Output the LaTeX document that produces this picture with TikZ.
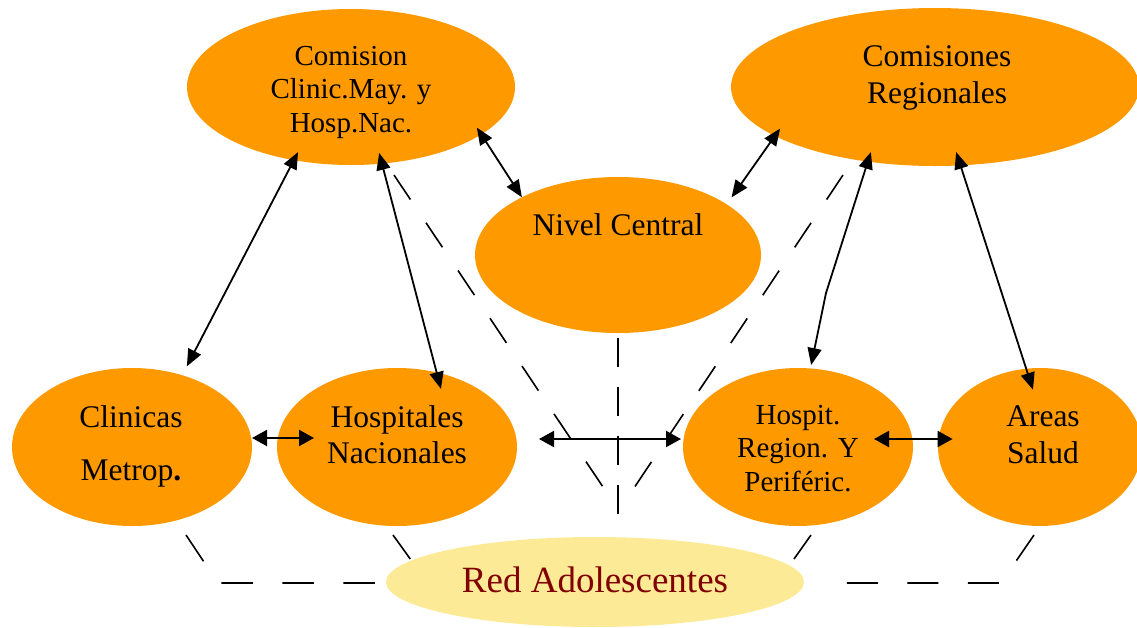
\documentclass[tikz,border=0pt]{standalone}
\usepackage{fontspec}
\setmainfont{Liberation Serif}
\usetikzlibrary{shapes.geometric,arrows.meta}
\definecolor{blobfill}{RGB}{255,153,0}
\definecolor{redfill}{RGB}{253,234,150}
\definecolor{redtext}{RGB}{128,0,0}
\begin{document}
\begin{tikzpicture}[x=1pt,y=-1pt,
  blob/.style={ellipse, fill=blobfill, inner sep=0pt, outer sep=0pt},
  lbl/.style={align=center, inner sep=0pt, outer sep=0pt, text=black},
  link/.style={{Triangle[length=17pt,width=14pt]}-{Triangle[length=17pt,width=14pt]}, line width=1.8pt},
  hlink/.style={{Triangle[length=15pt,width=16pt]}-{Triangle[length=15pt,width=16pt]}, line width=2.1pt},
  dashline/.style={line width=1.6pt, dash pattern=on 29.5pt off 28pt},
  fbig/.style={font=\fontsize{31.5}{36.5}\selectfont},
  fsmall/.style={font=\fontsize{29}{33.5}\selectfont}
]
\useasboundingbox (0,0) rectangle (1137,627);

% ellipses
\node[blob, minimum width=328pt, minimum height=156pt] (cm) at (351,87) {};
\node[blob, minimum width=408pt, minimum height=158pt] (cr) at (935,87) {};
\node[blob, minimum width=286pt, minimum height=156pt] (nc) at (618,255) {};
\node[blob, minimum width=240pt, minimum height=158pt] (cl) at (132,447) {};
\node[blob, minimum width=240pt, minimum height=158pt] (hn) at (397,447) {};
\node[blob, minimum width=230pt, minimum height=158pt] (hr) at (798,447) {};
\node[blob, minimum width=204pt, minimum height=158pt] (as) at (1040,447) {};

% dashed guide lines
\coordinate (d1a) at (394,175);
\coordinate (d1b) at (603,487);
\coordinate (d2a) at (843,175);
\coordinate (d2b) at (634,488);
\coordinate (d3a) at (618,338);
\coordinate (d3b) at (618,516);
\coordinate (d4a) at (186,535);
\coordinate (d4c) at (218,583);
\coordinate (d4b) at (378,583);
\coordinate (d5a) at (393,535);
\coordinate (d5b) at (411,560);
\coordinate (d6a) at (811,535);
\coordinate (d6b) at (794,559);
\coordinate (d7a) at (1034,535);
\coordinate (d7c) at (1001,583);
\coordinate (d7b) at (842,583);

\draw[dashline] (d1a) -- (d1b);
\draw[dashline] (d2a) -- (d2b);
\draw[dashline, dash pattern=on 28.5pt off 20.5pt] (d3a) -- (d3b);
\draw[dashline, dash pattern=on 31.5pt off 29.5pt] (d4a) -- (d4c) -- (d4b);
\draw[dashline] (d5a) -- (d5b);
\draw[dashline] (d6a) -- (d6b);
\draw[dashline, dash pattern=on 31pt off 29.5pt] (d7a) -- (d7c) -- (d7b);

\node[ellipse, fill=redfill, inner sep=0pt, outer sep=0pt, minimum width=418pt, minimum height=90pt] (ra) at (595,582) {};

% texts
\node[lbl, fsmall] (cm-t) at (351,92) {Comision\\Clinic.May. y\\Hosp.Nac.};
\node[lbl, fbig] (cr-t) at (937,78) {Comisiones\\Regionales};
\node[lbl, fbig] (nc-t) at (618,225) {Nivel Central};
\node[lbl, font=\fontsize{31.5}{53}\selectfont] (cl-t) at (131,446) {Clinicas\\Metrop\textbf{.}};
\node[lbl, fbig] (hn-t) at (397,434.5) {Hospitales\\Nacionales};
\node[lbl, fsmall] (hr-t) at (798,448.5) {Hospit.\\Region. Y\\Periféric.};
\node[lbl, fbig] (as-t) at (1043,434.5) {Areas\\Salud};
\node[lbl, font=\fontsize{37}{44}\selectfont, text=redtext] (ra-t) at (595,579.5) {Red Adolescentes};

% connectors
\draw[link, shorten <=-8pt] (cm.-20.3) -- (nc.149.6);
\draw[link, shorten <=8.5pt, shorten >=-9pt] (nc.25.3) -- (cr.-163.8);
\draw[link, shorten <=-9pt, shorten >=10pt] (cm.232) -- (cl.55);
\draw[link, shorten <=-11pt, shorten >=-17pt] (cm.-68.8) -- (hn.62);
\coordinate (b5) at (826,293);
\draw[link, shorten <=-10pt, shorten >=3.5pt] (cr.228.5) -- (b5) -- (hr.81.9);
\draw[link, shorten <=-14pt, shorten >=-22pt] (cr.-72.7) -- (as.100.1);
\coordinate (c7) at (252,438);
\draw[hlink, shorten >=-37pt] (c7) -- (hn.west |- c7);
\coordinate (c8) at (539,439);
\draw[hlink, shorten >=2pt] (c8) -- (hr.west |- c8);
\coordinate (c9) at (874,439);
\draw[hlink, shorten >=-14.6pt] (c9) -- (as.west |- c9);
\end{tikzpicture}
\end{document}
